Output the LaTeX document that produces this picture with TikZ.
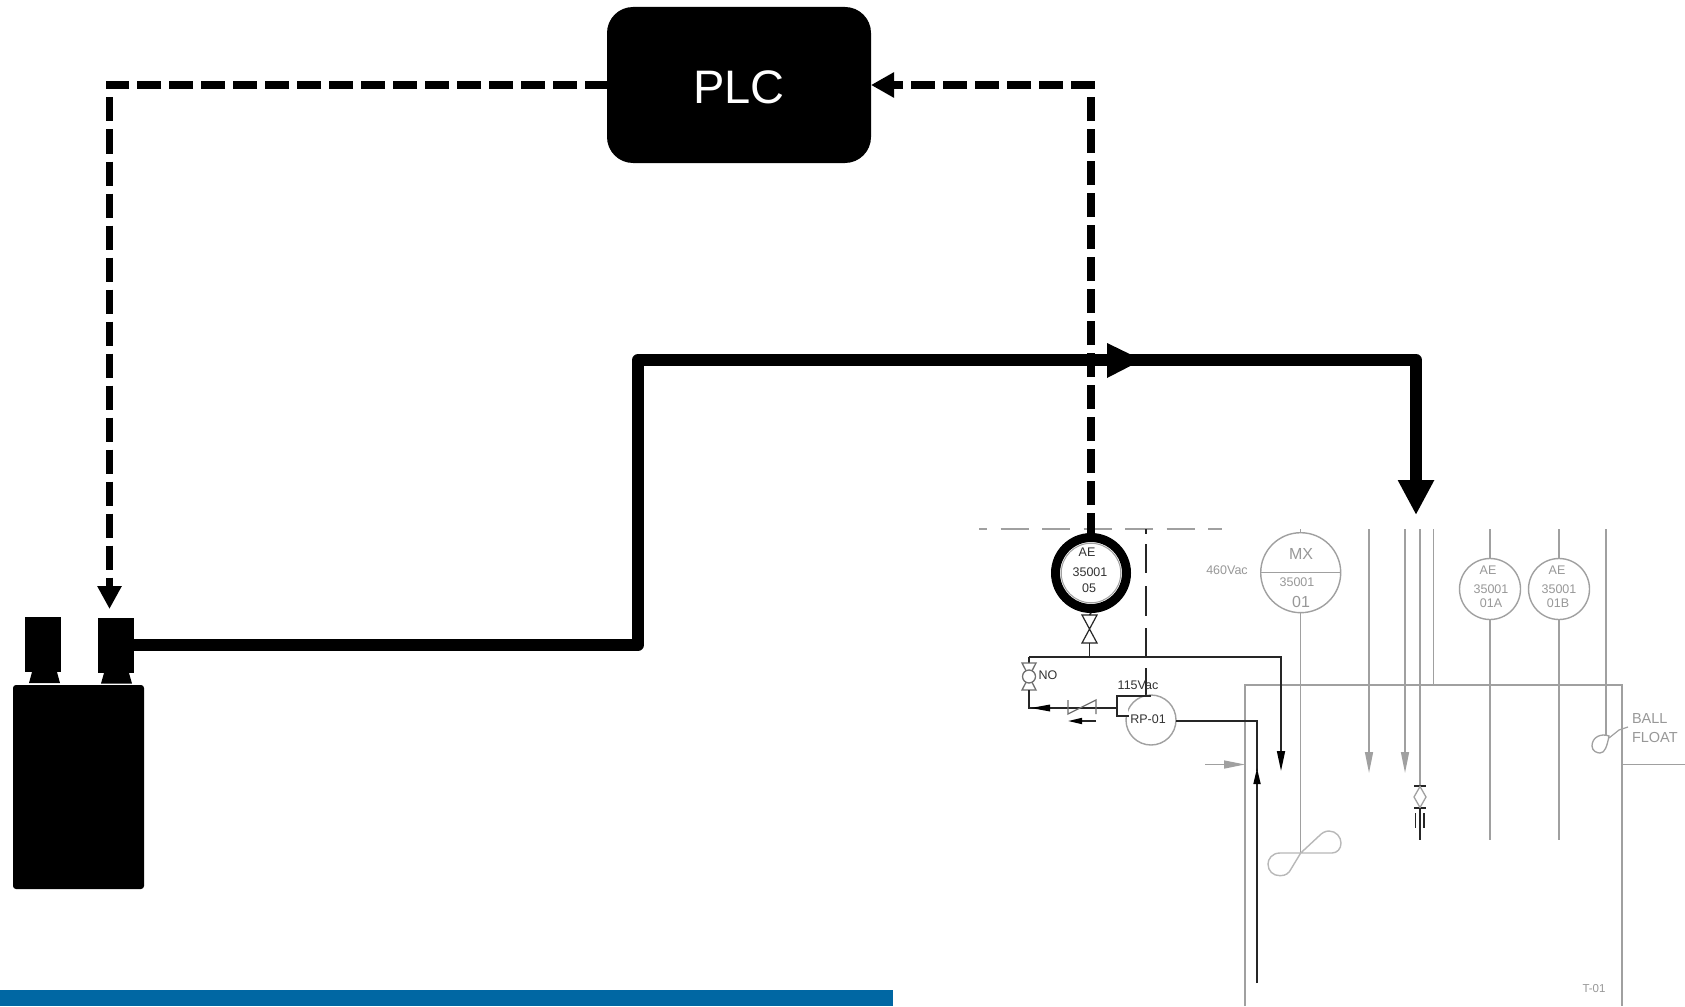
\documentclass[tikz,border=0pt]{standalone}
\usepackage{fontspec}
\setmainfont{Liberation Sans}
\usetikzlibrary{arrows.meta}
\definecolor{pidgray}{HTML}{A0A0A0}
\definecolor{pidmid}{HTML}{707070}
\definecolor{piddark}{HTML}{262626}
\definecolor{pidtext}{HTML}{333333}
\definecolor{pidlabel}{HTML}{989898}
\definecolor{barblue}{HTML}{0067A3}
\tikzset{
  heavydash/.style={line width=7.5pt,dash pattern=on 24pt off 8pt},
  heavyline/.style={line width=12pt,line join=round},
  blackblock/.style={fill=black,draw=none,inner sep=0pt,outer sep=0pt},
  grayline/.style={draw=pidgray,line width=1.4pt},
  darkline/.style={draw=piddark,line width=1.6pt},
  grayhead/.style={-{Triangle[length=21pt,width=8pt,color=pidgray]}},
  darkhead/.style={-{Triangle[length=20pt,width=8pt,color=black]}},
  labeltext/.style={inner sep=0pt,outer sep=0pt,text=pidlabel,font=\fontsize{12.5}{14}\selectfont},
  darktext/.style={inner sep=0pt,outer sep=0pt,text=pidtext,font=\fontsize{12.5}{14}\selectfont},
  instcircle/.style={circle,draw=pidgray,line width=1.4pt,inner sep=0pt,outer sep=0pt,minimum size=#1},
}
\begin{document}
\begin{tikzpicture}[x=1pt,y=-1pt]
\useasboundingbox (0,0) rectangle (1685,1006);
\fill[white] (0,0) rectangle (1685,1006);

% bottom bar
\node[fill=barblue,inner sep=0pt,outer sep=0pt,minimum width=893pt,minimum height=16pt,anchor=north west] (bar) at (0,990) {};

% tank
\coordinate (tankBL) at (1245,1006);
\coordinate (tankTL) at (1245,685);
\coordinate (tankTR) at (1622,685);
\coordinate (tankBR) at (1622,1006);
\draw[grayline] (tankBL) -- (tankTL) -- (tankTR) -- (tankBR);
\coordinate (tankOut) at (1622,764.5);
\coordinate (tankOutEnd) at (1685,764.5);
\draw[grayline] (tankOut) -- (tankOutEnd);
\coordinate (inletA) at (1205,764.5);
\coordinate (inletB) at (1245,764.5);
\draw[grayline,grayhead] (inletA) -- (inletB);

% dashed top boundary
\coordinate (bndA) at (979,529);
\coordinate (bndB) at (1222,529);
\draw[draw=pidgray,line width=1.2pt,dash pattern=on 28pt off 13.5pt,dash phase=20pt] (bndA) -- (bndB);

% instruments
\node[circle,draw=black,line width=9pt,inner sep=0pt,minimum size=71pt] (ae05) at (1091,573) {};
\node[circle,draw=pidgray,line width=1pt,inner sep=0pt,outer sep=0pt,minimum size=59.5pt] (ae05inner) at (1091,573) {};
\node[darktext] (ae05a) at (1087,552) {AE};
\node[darktext] (ae05b) at (1090,572) {35001};
\node[darktext] (ae05c) at (1089,588) {05};

\node[instcircle=80pt] (mx) at (1300.7,572.7) {};
\draw[grayline] (mx.west) -- (mx.east);
\node[labeltext,font=\fontsize{16}{18}\selectfont] (mxa) at (1301,554) {MX};
\node[labeltext] (mxb) at (1297,582) {35001};
\node[labeltext,font=\fontsize{16}{18}\selectfont] (mxc) at (1301,602) {01};
\node[labeltext] (vac460) at (1227,570) {460Vac};

\node[instcircle=61pt] (aeA) at (1490,589) {};
\node[labeltext] (aeAa) at (1488,570) {AE};
\node[labeltext] (aeAb) at (1491,589) {35001};
\node[labeltext] (aeAc) at (1491,603) {01A};
\node[instcircle=61pt] (aeB) at (1559,589) {};
\node[labeltext] (aeBa) at (1557,570) {AE};
\node[labeltext] (aeBb) at (1559,589) {35001};
\node[labeltext] (aeBc) at (1558,603) {01B};

% instrument stems
\coordinate (mxTop) at (1300.7,529);
\coordinate (agit) at (1300.7,853);
\draw[grayline] (mxTop) -- (mx.north);
\draw[grayline] (mx.south) -- (agit);
\coordinate (aeAtop) at (1490,529);
\coordinate (aeAend) at (1490,840);
\draw[grayline] (aeAtop) -- (aeA.north);
\draw[grayline] (aeA.south) -- (aeAend);
\coordinate (aeBtop) at (1559,529);
\coordinate (aeBend) at (1559,840);
\draw[grayline] (aeBtop) -- (aeB.north);
\draw[grayline] (aeB.south) -- (aeBend);

% agitator
\draw[draw=pidgray!75,line width=1.4pt] (agit) -- (1280,853) .. controls (1272,853) and (1268,859) .. (1268,864)
  .. controls (1268,871) and (1273,875.7) .. (1280,875.7) .. controls (1286,875.7) and (1289,873) .. (1291,869) -- (agit)
  -- (1319,836) .. controls (1322,833) and (1325,831) .. (1329,831) .. controls (1336,831) and (1341,837) .. (1341,843)
  .. controls (1341,849) and (1337,853) .. (1332,853) -- cycle;

% tank feed lines
\coordinate (f1top) at (1369,529);
\coordinate (f1tip) at (1369,773);
\draw[grayline,grayhead] (f1top) -- (f1tip);
\coordinate (f2top) at (1405,529);
\coordinate (f2tip) at (1405,773);
\draw[grayline,grayhead] (f2top) -- (f2tip);
\coordinate (f3top) at (1433.7,529);
\coordinate (f3end) at (1433.7,685);
\draw[grayline] (f3top) -- (f3end);
\coordinate (f4top) at (1420,529);
\coordinate (f4end) at (1420,785.7);
\draw[draw=pidgray,line width=1.8pt] (f4top) -- (f4end);

% sample valve
\draw[darkline] (1414,785.7) -- (1426,785.7) (1414,808) -- (1426,808);
\draw[draw=pidgray,line width=1.3pt] (1420,786.5) -- (1426,797) -- (1420,807.5) -- (1414,797) -- cycle;
\coordinate (sv1) at (1420,808);
\coordinate (sv2) at (1420,840);
\draw[darkline] (sv1) -- (sv2);
\draw[darkline] (1415.5,813) -- (1415.5,828) (1424,813) -- (1424,828);

% ball float
\coordinate (bfTop) at (1606,529);
\coordinate (bfEnd) at (1606,735);
\draw[grayline] (bfTop) -- (bfEnd);
\draw[draw=pidgray,line width=1.3pt] (1609,736) .. controls (1601,733) and (1592,737) .. (1592,746)
  .. controls (1592,751) and (1597,753) .. (1600,753) .. controls (1605,753) and (1607,746) .. (1609,736) -- cycle;
\draw[draw=pidgray,line width=1.2pt] (1609,738) -- (1619,730) -- (1628,727);
\node[labeltext,anchor=west,font=\fontsize{14.5}{16}\selectfont] (ball) at (1632,719) {BALL};
\node[labeltext,anchor=west,font=\fontsize{14.5}{16}\selectfont] (flt) at (1632,737) {FLOAT};
\node[labeltext,font=\fontsize{11.5}{13}\selectfont] (t01) at (1594,989) {T-01};

% black process lines
\coordinate (hdrL) at (1029,656.7);
\coordinate (hdrV) at (1089.5,656.7);
\coordinate (hdrR) at (1281,656.7);
\coordinate (hdrTip) at (1281,771);
\draw[darkline,darkhead] (hdrL) -- (hdrR) -- (hdrTip);

% isolation valve
\draw[draw=piddark,line width=1.2pt] (1082,615) -- (1097,615) -- (1082,643) -- (1097,643) -- cycle;
\coordinate (ivTop2) at (1089.5,615);
\coordinate (ivBot) at (1089.5,643);
\draw[darkline] (ae05.south) -- (ivTop2);
\draw[darkline] (ivBot) -- (hdrV);

% vertical dashed signal
\draw[draw=piddark,line width=1.6pt] (1146,529) -- (1146,534) (1146,544) -- (1146,573) (1146,586) -- (1146,616) (1146,628) -- (1146,657) (1146,668) -- (1146,697);

% NO valve
\draw[darkline] (hdrL) -- (1029,663);
\draw[draw=pidmid,line width=1.3pt] (1022,663) -- (1036,663) -- (1022,690) -- (1036,690) -- cycle;
\node[circle,draw=pidmid,fill=white,line width=1.3pt,inner sep=0pt,minimum size=13pt] (novalve) at (1029,676.5) {};
\node[darktext] (nolbl) at (1048,675) {NO};
\coordinate (noBot) at (1029,690);
\coordinate (noCorner) at (1029,708);
\coordinate (discEnd) at (1117,708);
\draw[darkline] (noBot) -- (noCorner) -- (discEnd);
\fill[black] (1031,708) -- (1050,704.5) -- (1050,711.5) -- cycle;

% check valve
\draw[draw=pidmid,line width=1.3pt] (1068,700) -- (1068,714) -- (1096,700) -- (1096,714);
\coordinate (chkA) at (1096,721);
\coordinate (chkB) at (1068,721);
\draw[darkline,-{Triangle[length=14pt,width=6pt,color=black]}] (chkA) -- (chkB);

% pump
\node[instcircle=50pt] (pump) at (1151,720) {};
\fill[white] (1118,697) rectangle (1128,715);
\draw[darkline] (1151,695.7) -- (1117,695.7) -- (1117,716) -- (1129,716);
\node[darktext] (rp) at (1148,719) {RP-01};
\node[darktext] (v115) at (1138,685) {115Vac};
\coordinate (outB) at (1257,721);
\coordinate (outC) at (1257,771);
\draw[darkline] (pump.east |- outB) -- (outB) -- (outC);
\coordinate (retBot) at (1257,983);
\coordinate (retTip) at (1257,768);
\draw[darkline,-{Triangle[length=16pt,width=7pt,color=black]}] (retBot) -- (retTip);

% tank-side device
\node[blackblock,minimum width=131pt,minimum height=204pt,rounded corners=3pt,anchor=north west] (base) at (13,685) {};
\fill[black] (32,672) -- (57,672) -- (60,683) -- (29,683) -- cycle;
\fill[black] (104,673) -- (129,673) -- (132,683.5) -- (101,683.5) -- cycle;
\node[blackblock,minimum width=36pt,minimum height=55pt,anchor=north west] (motorA) at (25,617) {};
\node[blackblock,minimum width=36pt,minimum height=55pt,anchor=north west] (motorB) at (98,617.5) {};

% PLC
\node[blackblock,minimum width=264pt,minimum height=156pt,rounded corners=26pt] (plc) at (739,85) {};
\node[inner sep=0pt,text=white,font=\fontsize{47}{50}\selectfont] (plctext) at (739,87) {PLC};

% signal connectors
\coordinate (motorTip) at (109.5,609);
\coordinate (plcCornerL) at (109.5,85);
\draw[black,heavydash,dash phase=2pt,-{Triangle[length=23pt,width=23pt]}] (plc.west) -- (plcCornerL) -- (motorTip);
\coordinate (plcCornerR) at (1091,85);
\draw[black,heavydash,dash phase=4pt,-{Triangle[length=23pt,width=24pt]}] (ae05.north) -- (plcCornerR) -- (plc.east);

% main solid line
\coordinate (solA) at (638,645);
\coordinate (solB) at (638,360);
\coordinate (solC) at (1416,360);
\coordinate (solTip) at (1416,515);
\draw[black,heavyline,-{Triangle[length=35pt,width=34pt]}] (motorB.east) -- (solA) -- (solB) -- (solC) -- (solTip);
\fill[black] (1107,343) -- (1142,360) -- (1107,378) -- cycle;
\end{tikzpicture}
\end{document}
